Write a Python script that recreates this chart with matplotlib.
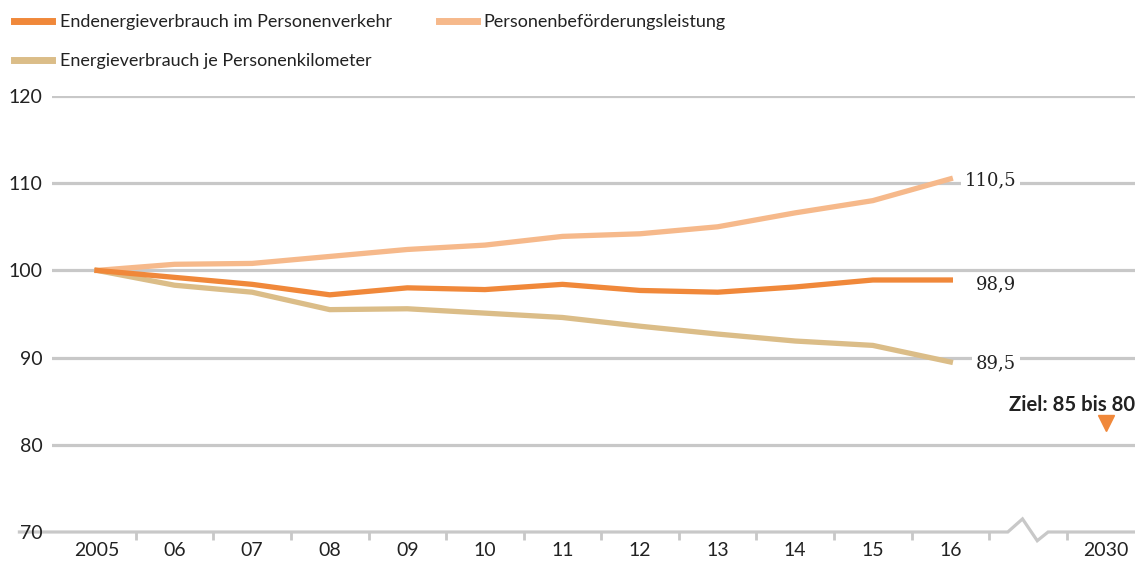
import matplotlib.pyplot as plt

plt.rcParams['font.family'] = ['Lato', 'DejaVu Sans']

# Index 2005 = 100
years = ['2005', '06', '07', '08', '09', '10', '11', '12', '13', '14', '15', '16']
endenergie = [100, 99.2, 98.4, 97.2, 98.0, 97.8, 98.4, 97.7, 97.5, 98.1, 98.9, 98.9]
befoerderung = [100, 100.7, 100.8, 101.6, 102.4, 102.9, 103.9, 104.2, 105.0, 106.6, 108.0, 110.5]
je_pkm = [100, 98.3, 97.5, 95.5, 95.6, 95.1, 94.6, 93.6, 92.7, 91.9, 91.4, 89.5]
end_labels = ['98,9', '110,5', '89,5']
target_year = '2030'
target_value = 82.5
target_text = 'Ziel: 85 bis 80'
yticks = [70, 80, 90, 100, 110, 120]

c_end = '#F0883A'
c_bef = '#F6B98B'
c_pkm = '#DBBD88'
grey = '#C8C8C8'

fig = plt.figure(figsize=(11.35, 5.62), dpi=100)
ax = fig.add_axes([52 / 1135, 1 - 532 / 562, 1 - 52 / 1135, (532 - 96) / 562])

xs = list(range(len(years)))
x_target = len(years) + 1  # one slot left free for the axis break

# grid lines (baseline drawn separately with the break)
for v in yticks[1:]:
    ax.axhline(v, color=grey, lw=2.3, zorder=1)

# baseline with zigzag break
brk = len(years) - 1
bx = [-1, brk + 0.74, brk + 0.93, brk + 1.12, brk + 1.26, x_target + 1]
by = [70, 70, 71.5, 69.0, 70, 70]
ax.plot(bx, by, color=grey, lw=2.3, clip_on=False, zorder=1, solid_joinstyle='miter')

l_end, = ax.plot(xs, endenergie, color=c_end, lw=3.8, zorder=4,
                 label='Endenergieverbrauch im Personenverkehr')
l_bef, = ax.plot(xs, befoerderung, color=c_bef, lw=3.8, zorder=3,
                 label='Personenbeförderungsleistung')
l_pkm, = ax.plot(xs, je_pkm, color=c_pkm, lw=3.8, zorder=3,
                 label='Energieverbrauch je Personenkilometer')

# end value labels
for vals, lab in zip([endenergie, befoerderung, je_pkm], end_labels):
    if lab == '98,9':
        ax.text(brk + 0.85, vals[-1] - 0.45, lab, ha='right', va='center',
                family='DejaVu Serif', fontsize=13, color='#222222', zorder=5)
    else:
        ax.text(brk + 0.85, vals[-1] - 0.2, lab, ha='right', va='center',
                family='DejaVu Serif', fontsize=13, color='#222222', zorder=5,
                bbox=dict(facecolor='white', edgecolor='none', pad=3))

# target
ax.plot([x_target], [target_value], marker='v', color=c_end, markersize=11,
        ls='none', clip_on=False, zorder=5)
ax.text(brk + 0.75, 84.6, target_text, ha='left', va='center', fontsize=14.6,
        fontweight='bold', color='#222222', clip_on=False)

ax.set_xlim(-0.58, 13.38)
ax.set_ylim(70, 120)
ax.set_xticks(xs + [x_target])
ax.set_xticklabels(years + [target_year])
ax.set_xticks([i + 0.5 for i in range(len(years))] + [x_target - 0.5], minor=True)
ax.tick_params(axis='x', which='major', length=0, pad=7, labelsize=14, colors='#222222')
ax.tick_params(axis='x', which='minor', length=6, width=2, color=grey)
ax.set_yticks(yticks)
ax.tick_params(axis='y', length=0, pad=7, labelsize=14, colors='#222222')
for s in ax.spines.values():
    s.set_visible(False)

fig.legend(handles=[l_end, l_pkm, l_bef], loc='upper left',
           bbox_to_anchor=(0.0, 1.0), ncol=2, frameon=False, fontsize=13,
           handlelength=2.1, handletextpad=0.4, columnspacing=2.6,
           labelspacing=1.25, borderaxespad=0.5, borderpad=0.3,
           labelcolor='#222222')
for h in fig.legends[0].legend_handles:
    h.set_linewidth(5)

fig.savefig('out.png', dpi=100)
